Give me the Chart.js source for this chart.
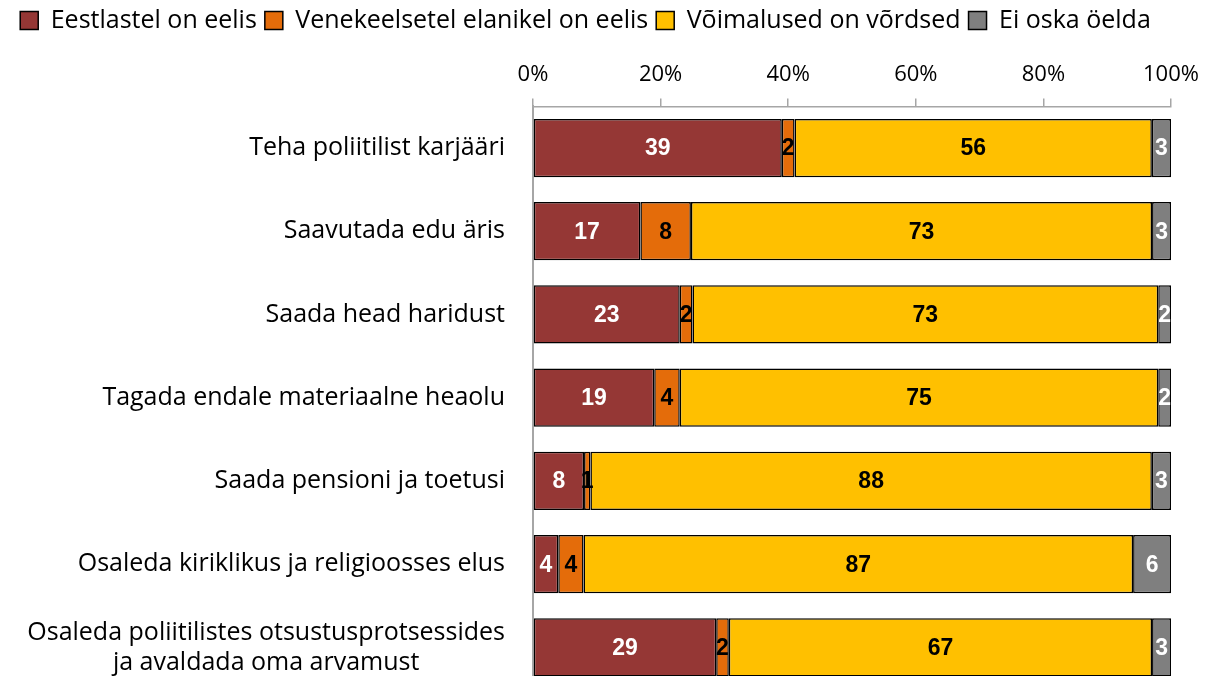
<!DOCTYPE html>
<html>
<head>
<meta charset="utf-8">
<script src="https://cdn.jsdelivr.net/npm/chart.js@4"></script>
<style>
    html, body { margin: 0; padding: 0; background: #fff; overflow: hidden; }
</style>
</head>
<body>
<canvas id="graafik" width="1210" height="690"></canvas>
<script>
const kategooriad = [
    ['Teha poliitilist karjääri'],
    ['Saavutada edu äris'],
    ['Saada head haridust'],
    ['Tagada endale materiaalne heaolu'],
    ['Saada pensioni ja toetusi'],
    ['Osaleda kiriklikus ja religioosses elus'],
    ['Osaleda poliitilistes otsustusprotsessides', 'ja avaldada oma arvamust']
];
const eestlastel = [39, 17, 23, 19, 8, 4, 29];
const venekeelsetel = [2, 8, 2, 4, 1, 4, 2];
const vordsed = [56, 73, 73, 75, 88, 87, 67];
const eiOska = [3, 3, 2, 2, 3, 6, 3];
const xTicks = [0, 20, 40, 60, 80, 100];

const FONT = '"Open Sans", Lato, sans-serif';

// each bar is shown as a 100% bar
const summad = kategooriad.map((_, i) => eestlastel[i] + venekeelsetel[i] + vordsed[i] + eiOska[i]);
const protsent = arr => arr.map((v, i) => v / summad[i] * 100);

function seeria(nimi, vaartused, varv, tekstiVarv) {
    return {
        label: nimi,
        data: protsent(vaartused),
        valued: vaartused,
        textColor: tekstiVarv,
        backgroundColor: varv,
        borderColor: '#000',
        borderWidth: 1.5,
        borderSkipped: false,
        categoryPercentage: 1,
        barPercentage: 0.7
    };
}

const sildid = {
    id: 'sildid',
    afterDatasetsDraw(chart) {
        const ctx = chart.ctx;
        ctx.save();
        ctx.font = 'bold 23px "Liberation Sans", Arial, sans-serif';
        ctx.textAlign = 'center';
        ctx.textBaseline = 'middle';
        chart.data.datasets.forEach((ds, i) => {
            chart.getDatasetMeta(i).data.forEach((bar, j) => {
                ctx.fillStyle = ds.textColor;
                ctx.fillText(String(ds.valued[j]), (bar.x + bar.base) / 2, bar.y + 1);
            });
        });
        ctx.restore();
    }
};

// category labels: block right aligned, lines centered inside the block
const kategooriaSildid = {
    id: 'kategooriaSildid',
    afterDraw(chart) {
        const ctx = chart.ctx;
        const y = chart.scales.y;
        const parem = chart.chartArea.left - 28;
        const reaKorgus = 30;
        ctx.save();
        ctx.font = '25px ' + FONT;
        ctx.fillStyle = '#000';
        ctx.textAlign = 'center';
        ctx.textBaseline = 'middle';
        kategooriad.forEach((read, i) => {
            const laius = Math.max(...read.map(r => ctx.measureText(r).width));
            const kx = parem - laius / 2;
            const ky = y.getPixelForTick(i) - (read.length - 1) * reaKorgus / 2;
            read.forEach((r, k) => ctx.fillText(r, kx, ky + k * reaKorgus));
        });
        ctx.restore();
    }
};

new Chart(document.getElementById('graafik'), {
    type: 'bar',
    data: {
        labels: kategooriad.map(k => k.join(' ')),
        datasets: [
            seeria('Eestlastel on eelis', eestlastel, '#953735', '#fff'),
            seeria('Venekeelsetel elanikel on eelis', venekeelsetel, '#E46C0A', '#000'),
            seeria('Võimalused on võrdsed', vordsed, '#FFC000', '#000'),
            seeria('Ei oska öelda', eiOska, '#7F7F7F', '#fff')
        ]
    },
    options: {
        indexAxis: 'y',
        responsive: false,
        animation: false,
        devicePixelRatio: 1,
        layout: { padding: { left: 0, right: 39, top: 0, bottom: 1 } },
        scales: {
            x: {
                position: 'top',
                stacked: true,
                min: 0,
                max: 100,
                afterBuildTicks: scale => { scale.ticks = xTicks.map(v => ({ value: v })); },
                afterFit: scale => {
                    scale.height += 9;
                    scale.paddingLeft = 0;
                    scale.paddingRight = 0;
                },
                ticks: {
                    callback: v => v + '%',
                    color: '#000',
                    font: { family: FONT, size: 22 },
                    padding: 10
                },
                grid: { display: true, drawOnChartArea: false, drawTicks: true, tickLength: 8, color: '#a6a6a6', lineWidth: 1.5 },
                border: { display: true, color: '#a6a6a6', width: 1.5 }
            },
            y: {
                stacked: true,
                ticks: { display: false },
                grid: { display: false },
                border: { display: true, color: '#a6a6a6', width: 2 },
                afterFit: scale => { scale.width = 533; }
            }
        },
        plugins: {
            legend: {
                position: 'top',
                labels: {
                    boxWidth: 18,
                    boxHeight: 18,
                    padding: 8,
                    color: '#000',
                    font: { family: FONT, size: 25 }
                }
            },
            tooltip: { enabled: false }
        }
    },
    plugins: [sildid, kategooriaSildid]
});
</script>
</body>
</html>
